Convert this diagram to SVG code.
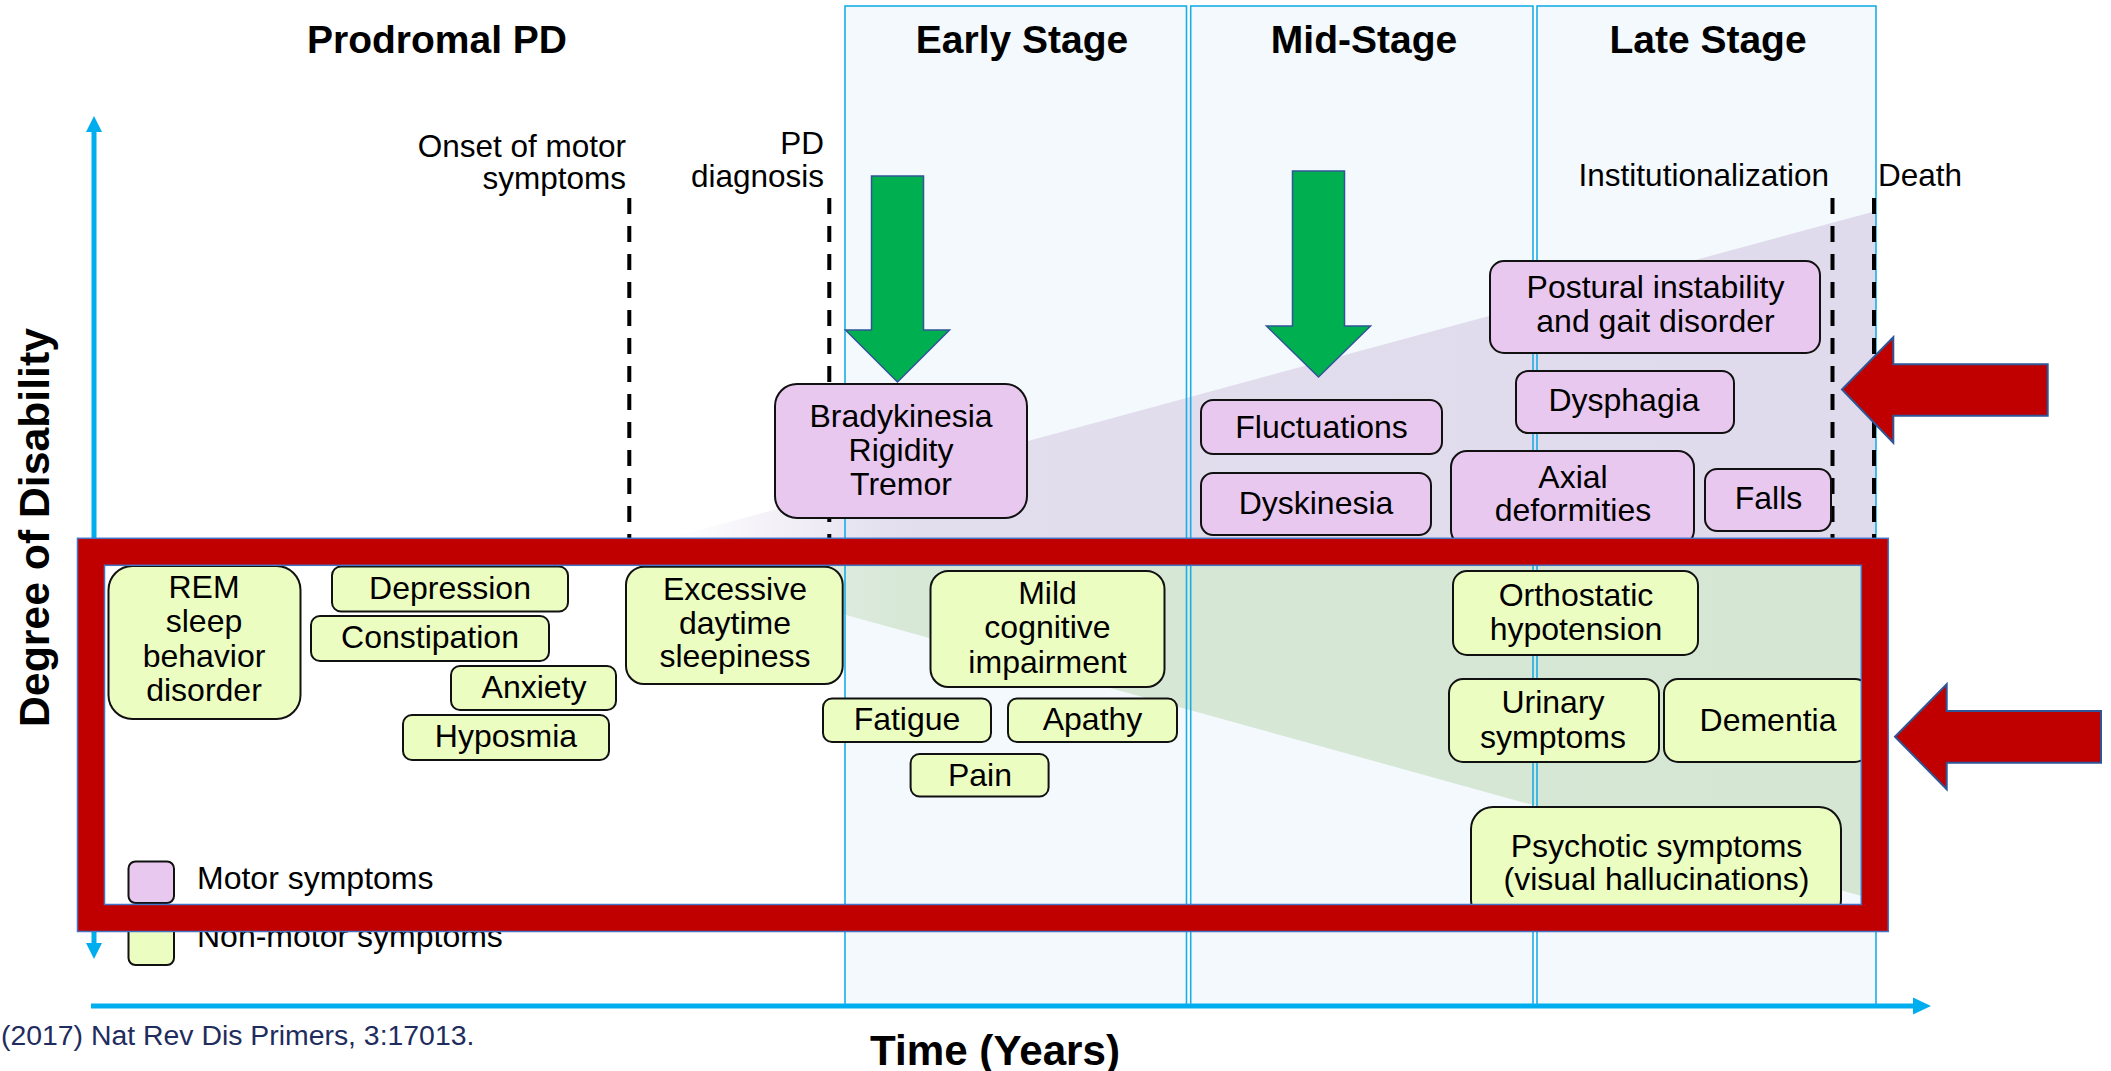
<svg xmlns="http://www.w3.org/2000/svg" width="2111" height="1071" viewBox="0 0 2111 1071">
<defs>
<style>
text{font-family:"Liberation Sans",Arial,sans-serif;fill:#000}
.h{font-size:39px;font-weight:bold;text-anchor:middle}
.lb{font-size:31.5px}
.t{font-size:32px;text-anchor:middle}
.m{fill:#E9C8EF;stroke:#111;stroke-width:2}
.n{fill:#ECFDC2;stroke:#111;stroke-width:2}
.panel{fill:#F3F9FD;stroke:none}
.pline{fill:none;stroke:#1AAEE6;stroke-width:1.6}
.dash{stroke:#000;stroke-width:4;stroke-dasharray:16 12;fill:none}
.ax{stroke:#00AEEF;stroke-width:5;fill:none}
.axh{fill:#00AEEF}
.ga{fill:#00B050;stroke:#2F5597;stroke-width:1.5}
.ra{fill:#C00000;stroke:#2F5597;stroke-width:2}
</style>
<linearGradient id="gp" gradientUnits="userSpaceOnUse" x1="670" y1="0" x2="1876" y2="0">
<stop offset="0" stop-color="#E1DBEC" stop-opacity="0"/>
<stop offset="0.2" stop-color="#E1DBEC" stop-opacity="0.9"/>
<stop offset="1" stop-color="#E0DBEC" stop-opacity="1"/>
</linearGradient>
<linearGradient id="gg" gradientUnits="userSpaceOnUse" x1="568" y1="0" x2="1876" y2="0">
<stop offset="0" stop-color="#D5E6D3" stop-opacity="0"/>
<stop offset="0.25" stop-color="#D5E6D3" stop-opacity="0.9"/>
<stop offset="1" stop-color="#D5E6D3" stop-opacity="1"/>
</linearGradient>
</defs>
<rect width="2111" height="1071" fill="#fff"/>

<g id="stage-panels">
<rect class="panel" x="845" y="6" width="341.5" height="999"/>
<rect class="panel" x="1190.7" y="6" width="342.3" height="999"/>
<rect class="panel" x="1537" y="6" width="339" height="999"/>
</g>

<g id="wedges">
<polygon points="670,538 1876,211 1876,538" fill="url(#gp)"/>
<polygon points="568,538 1876,538 1876,900" fill="url(#gg)"/>
</g>

<g id="panel-outlines">
<rect class="pline" x="845" y="6" width="341.5" height="999"/>
<rect class="pline" x="1190.7" y="6" width="342.3" height="999"/>
<rect class="pline" x="1537" y="6" width="339" height="999"/>
</g>

<g id="headings">
<text class="h" x="437" y="53">Prodromal PD</text>
<text class="h" x="1022" y="53">Early Stage</text>
<text class="h" x="1364" y="53">Mid-Stage</text>
<text class="h" x="1708" y="53">Late Stage</text>
</g>

<g id="connectors">
<line class="dash" x1="629.3" y1="198" x2="629.3" y2="540"/>
<line class="dash" x1="829.3" y1="198" x2="829.3" y2="540"/>
<line class="dash" x1="1832.5" y1="198" x2="1832.5" y2="540"/>
<line class="dash" x1="1874" y1="198" x2="1874" y2="540"/>
<line class="ax" x1="94" y1="130" x2="94" y2="945"/>
<polygon class="axh" points="94,116 102,132 86,132"/>
<polygon class="axh" points="94,959 102,943 86,943"/>
<line class="ax" x1="91" y1="1006" x2="1915" y2="1006"/>
<polygon class="axh" points="1931,1006 1913,997.5 1913,1014.5"/>
<polygon class="ga" points="871.5,176 923.5,176 923.5,330 949.5,330 897.5,382 845.5,330 871.5,330"/>
<polygon class="ga" points="1292.5,171 1344.5,171 1344.5,326 1370.5,326 1318.5,377 1266.5,326 1292.5,326"/>
</g>

<g id="event-labels">
<text class="lb" x="626" y="157" text-anchor="end">Onset of motor</text>
<text class="lb" x="626" y="189" text-anchor="end">symptoms</text>
<text class="lb" x="824" y="154" text-anchor="end">PD</text>
<text class="lb" x="824" y="187" text-anchor="end">diagnosis</text>
<text class="lb" x="1829" y="186" text-anchor="end">Institutionalization</text>
<text class="lb" x="1878" y="186">Death</text>
</g>

<g id="bradykinesia"><rect class="m" x="775" y="384" width="252" height="134" rx="22"/>
<text class="t" x="901" y="427">Bradykinesia</text><text class="t" x="901" y="461">Rigidity</text><text class="t" x="901" y="495">Tremor</text></g>
<g id="fluctuations"><rect class="m" x="1201" y="400" width="241" height="54" rx="12"/>
<text class="t" x="1321.5" y="438">Fluctuations</text></g>
<g id="dyskinesia"><rect class="m" x="1201" y="473" width="230" height="62" rx="12"/>
<text class="t" x="1316" y="514">Dyskinesia</text></g>
<g id="postural"><rect class="m" x="1490" y="261" width="330" height="92" rx="14"/>
<text class="t" x="1655.5" y="298">Postural instability</text><text class="t" x="1655.5" y="332">and gait disorder</text></g>
<g id="dysphagia"><rect class="m" x="1516" y="371" width="218" height="62" rx="12"/>
<text class="t" x="1624" y="411">Dysphagia</text></g>
<g id="axial"><rect class="m" x="1451" y="451" width="243" height="95" rx="16"/>
<text class="t" x="1573" y="487.5">Axial</text><text class="t" x="1573" y="521">deformities</text></g>
<g id="falls"><rect class="m" x="1705" y="469" width="126" height="62" rx="12"/>
<text class="t" x="1768.5" y="509">Falls</text></g>

<g id="rem"><rect class="n" x="108.5" y="566" width="192" height="153" rx="24"/>
<text class="t" x="204" y="598">REM</text><text class="t" x="204" y="632">sleep</text><text class="t" x="204" y="667">behavior</text><text class="t" x="204" y="701">disorder</text></g>
<g id="depression"><rect class="n" x="332" y="566.5" width="236" height="45" rx="9"/>
<text class="t" x="450" y="599">Depression</text></g>
<g id="constipation"><rect class="n" x="311" y="616" width="238" height="45" rx="9"/>
<text class="t" x="430" y="647.5">Constipation</text></g>
<g id="anxiety"><rect class="n" x="451" y="666" width="165" height="44" rx="9"/>
<text class="t" x="534" y="697.5">Anxiety</text></g>
<g id="hyposmia"><rect class="n" x="403" y="715" width="206" height="45" rx="9"/>
<text class="t" x="506" y="747">Hyposmia</text></g>
<g id="eds"><rect class="n" x="626" y="566.7" width="216.7" height="117.3" rx="18"/>
<text class="t" x="735" y="600">Excessive</text><text class="t" x="735" y="634.3">daytime</text><text class="t" x="735" y="667.3">sleepiness</text></g>
<g id="mci"><rect class="n" x="930.5" y="571" width="234" height="116" rx="18"/>
<text class="t" x="1047.5" y="604">Mild</text><text class="t" x="1047.5" y="637.7">cognitive</text><text class="t" x="1047.5" y="673">impairment</text></g>
<g id="fatigue"><rect class="n" x="823" y="698.5" width="168" height="43.5" rx="9"/>
<text class="t" x="907" y="730">Fatigue</text></g>
<g id="apathy"><rect class="n" x="1008" y="698.5" width="169" height="43.5" rx="9"/>
<text class="t" x="1092.5" y="730">Apathy</text></g>
<g id="pain"><rect class="n" x="910.6" y="754" width="138" height="42.5" rx="9"/>
<text class="t" x="980" y="785.5">Pain</text></g>
<g id="orthostatic"><rect class="n" x="1453" y="571" width="245" height="84" rx="14"/>
<text class="t" x="1576" y="606">Orthostatic</text><text class="t" x="1576" y="639.5">hypotension</text></g>
<g id="urinary"><rect class="n" x="1449" y="679" width="210" height="83" rx="14"/>
<text class="t" x="1553" y="713">Urinary</text><text class="t" x="1553" y="748">symptoms</text></g>
<g id="dementia"><rect class="n" x="1664" y="679" width="205" height="83" rx="14"/>
<text class="t" x="1768" y="731">Dementia</text></g>
<g id="psychotic"><rect class="n" x="1471" y="807" width="370" height="115" rx="22"/>
<text class="t" x="1656.5" y="856.7">Psychotic symptoms</text><text class="t" x="1656.5" y="890">(visual hallucinations)</text></g>

<g id="legend">
<rect class="m" x="128.5" y="861.5" width="45.5" height="41.5" rx="7"/>
<text x="197" y="889" style="font-size:32px">Motor symptoms</text>
<rect class="n" x="128.5" y="923" width="45.5" height="42" rx="7"/>
<text x="197" y="947" style="font-size:32px">Non-motor symptoms</text>
</g>

<g id="red-frame">
<rect x="91" y="551.8" width="1783.8" height="366.2" fill="none" stroke="#C00000" stroke-width="27"/>
<rect x="77.5" y="538.3" width="1810.8" height="393.2" fill="none" stroke="#4472C4" stroke-width="1.5"/>
<rect x="104.5" y="565.3" width="1756.8" height="339.2" fill="none" stroke="#4472C4" stroke-width="1.5"/>
</g>

<g id="red-arrows">
<polygon class="ra" points="1842,389.5 1893.3,337.3 1893.3,364.3 2047.7,364.3 2047.7,415.7 1893.3,415.7 1893.3,442.7"/>
<polygon class="ra" points="1895,736.7 1946.7,684.3 1946.7,711 2101,711 2101,762.7 1946.7,762.7 1946.7,789.3"/>
</g>

<g id="axis-titles">
<text x="995" y="1065" text-anchor="middle" textLength="250" lengthAdjust="spacingAndGlyphs" style="font-size:43px;font-weight:bold">Time (Years)</text>
<text transform="translate(48.5,527.5) rotate(-90)" text-anchor="middle" textLength="399" lengthAdjust="spacingAndGlyphs" style="font-size:43px;font-weight:bold">Degree of Disability</text>
</g>

<text x="1" y="1045" style="font-size:28.4px;fill:#1F2D5E">(2017) Nat Rev Dis Primers, 3:17013.</text>
</svg>
